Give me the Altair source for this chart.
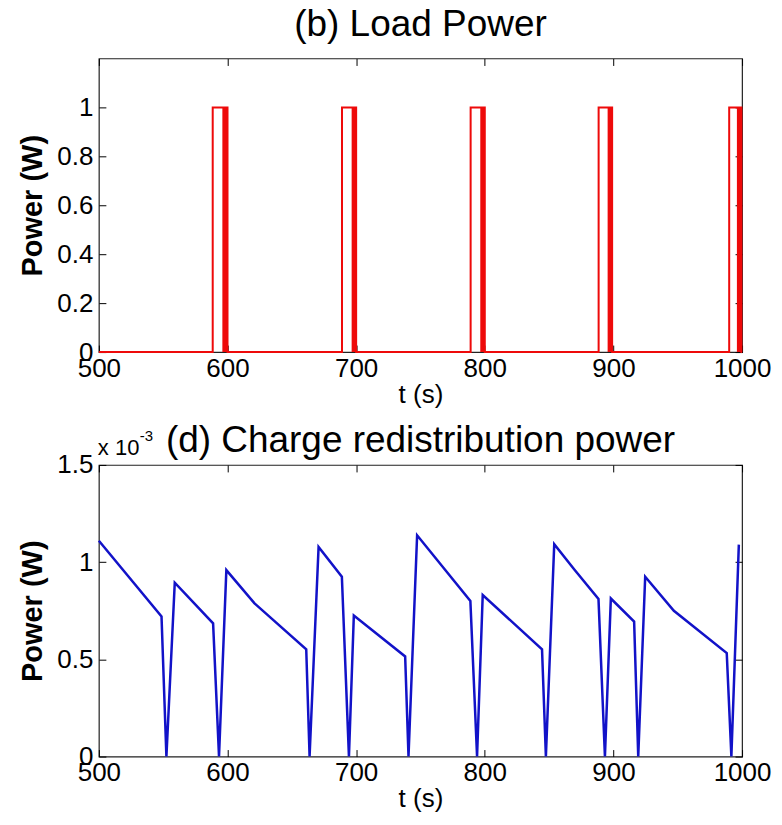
import altair as alt
import pandas as pd

# ---------------- data ----------------
# (b) Load power: pulses of 1 W; the falling edge is a thick band of fast switching
pulse_on = [588.5, 689.0, 789.0, 888.5, 990.0]
band_start = [596.0, 696.5, 796.5, 895.5, 996.0]
pulse_off = [600.0, 700.0, 800.0, 899.0, 999.5]

# (d) Charge redistribution power, values in units of 1e-3 W
t_d = [500.0, 548.7, 552.5, 559.0, 588.8, 593.4, 599.1, 621.0, 661.2, 663.8,
       670.8, 688.9, 694.4, 698.2, 738.1, 740.7, 747.4, 788.8, 794.0, 798.4,
       844.5, 847.5, 854.0, 869.6, 888.4, 893.4, 898.0, 916.1, 919.3, 924.7,
       947.0, 988.1, 991.7, 997.5]
p_d = [1.11, 0.72, 0.0, 0.894, 0.685, 0.0, 0.959, 0.788, 0.552, 0.0,
       1.078, 0.925, 0.0, 0.725, 0.515, 0.0, 1.138, 0.80, 0.0, 0.831,
       0.552, 0.0, 1.092, 0.962, 0.81, 0.0, 0.813, 0.694, 0.0, 0.925,
       0.75, 0.532, 0.0, 1.09]

x_ticks = [500, 600, 700, 800, 900, 1000]
y_ticks_b = [0, 0.2, 0.4, 0.6, 0.8, 1.0]
y_ticks_d = [0, 0.5, 1.0, 1.5]
exp_labels = ["x 10", "-3"]

# ---------------- tables ----------------
tb, pb = [500.0], [0.0]
for on, off in zip(pulse_on, pulse_off):
    tb += [on, on, off, off]
    pb += [0.0, 1.0, 1.0, 0.0]
tb.append(1000.0)
pb.append(0.0)
df_b = pd.DataFrame({"t": tb, "p": pb, "i": range(len(tb))})
df_band = pd.DataFrame({"t0": band_start, "t1": pulse_off,
                        "y0": [0.0] * len(band_start), "y1": [1.0] * len(band_start)})
df_d = pd.DataFrame({"t": t_d, "p": p_d, "i": range(len(t_d))})

FONT = "Liberation Sans"
RED = "#ee0a0a"
BLUE = "#1212c8"
W, H1, H2 = 644, 294, 292

xscale = alt.Scale(domain=[500, 1000], nice=False, zero=False)
yscale_b = alt.Scale(domain=[0, 1.2], nice=False)
yscale_d = alt.Scale(domain=[0, 1.5], nice=False)


def x_main():
    return alt.Axis(orient="bottom", values=x_ticks, format="d", title="t (s)",
                    domain=False, grid=False, ticks=True, tickSize=7, offset=-7,
                    tickColor="black", labelPadding=3, labelFlush=False,
                    labelFont=FONT, labelFontSize=26, labelColor="black",
                    titleFont=FONT, titleFontSize=26, titleFontWeight="normal",
                    titleColor="black", titlePadding=0)


def y_main(vals):
    return alt.Axis(orient="left", values=vals, format="~g", title="Power (W)",
                    domain=False, grid=False, ticks=True, tickSize=7, offset=-7,
                    tickColor="black", labelPadding=6, labelFlush=False,
                    labelFont=FONT, labelFontSize=26, labelColor="black",
                    titleFont=FONT, titleFontSize=29, titleFontWeight="bold",
                    titleColor="black", titlePadding=9)


def x_top():
    return alt.Axis(orient="top", values=x_ticks, labels=False, title=None,
                    domain=False, grid=False, tickSize=7, offset=-7, tickColor="black")


def y_right(vals):
    return alt.Axis(orient="right", values=vals, labels=False, title=None,
                    domain=False, grid=False, tickSize=7, offset=-7, tickColor="black")


# ---------------- (b) ----------------
line_b = alt.Chart(df_b).mark_line(color=RED, strokeWidth=2).encode(
    x=alt.X("t:Q", scale=xscale, axis=x_main()),
    y=alt.Y("p:Q", scale=yscale_b, axis=y_main(y_ticks_b)),
    order="i:Q",
)
band_b = alt.Chart(df_band).mark_rect(color=RED).encode(
    x=alt.X("t0:Q", scale=xscale, axis=x_top()),
    x2="t1:Q",
    y=alt.Y("y0:Q", scale=yscale_b, axis=y_right(y_ticks_b)),
    y2="y1:Q",
)
top = alt.layer(band_b, line_b).resolve_axis(x="independent", y="independent").properties(
    width=W, height=H1,
    title=alt.TitleParams("(b) Load Power", font=FONT, fontSize=37, fontWeight="normal",
                          color="black", anchor="middle", frame="group", offset=14),
)

# ---------------- (d) ----------------
line_d = alt.Chart(df_d).mark_line(color=BLUE, strokeWidth=2.5).encode(
    x=alt.X("t:Q", scale=xscale, axis=x_main()),
    y=alt.Y("p:Q", scale=yscale_d, axis=y_main(y_ticks_d)),
    order="i:Q",
)
ghost_d = alt.Chart(df_d).mark_line(opacity=0).encode(
    x=alt.X("t:Q", scale=xscale, axis=x_top()),
    y=alt.Y("p:Q", scale=yscale_d, axis=y_right(y_ticks_d)),
    order="i:Q",
)
exp_df = pd.DataFrame({"label": [exp_labels[0]]})
exp_df2 = pd.DataFrame({"label": [exp_labels[1]]})
exp_main = alt.Chart(exp_df).mark_text(font=FONT, fontSize=22, align="left",
                                       baseline="alphabetic", color="black").encode(
    text="label:N", x=alt.value(-1), y=alt.value(-10))
exp_sup = alt.Chart(exp_df2).mark_text(font=FONT, fontSize=15, align="left",
                                       baseline="alphabetic", color="black").encode(
    text="label:N", x=alt.value(41), y=alt.value(-24))

bottom = alt.layer(line_d, ghost_d, exp_main, exp_sup).resolve_axis(
    x="independent", y="independent").properties(
    width=W, height=H2,
    title=alt.TitleParams("(d) Charge redistribution power", font=FONT, fontSize=37,
                          fontWeight="normal", color="black", anchor="middle",
                          frame="group", offset=-31),
)

chart = alt.vconcat(top, bottom, spacing=13).properties(
    padding={"left": 18, "top": 4, "right": 10, "bottom": 5},
    background="white",
).configure_view(stroke="#222222", strokeWidth=1.2)

chart.save("out.html", embed_options={"renderer": "svg", "actions": False})
